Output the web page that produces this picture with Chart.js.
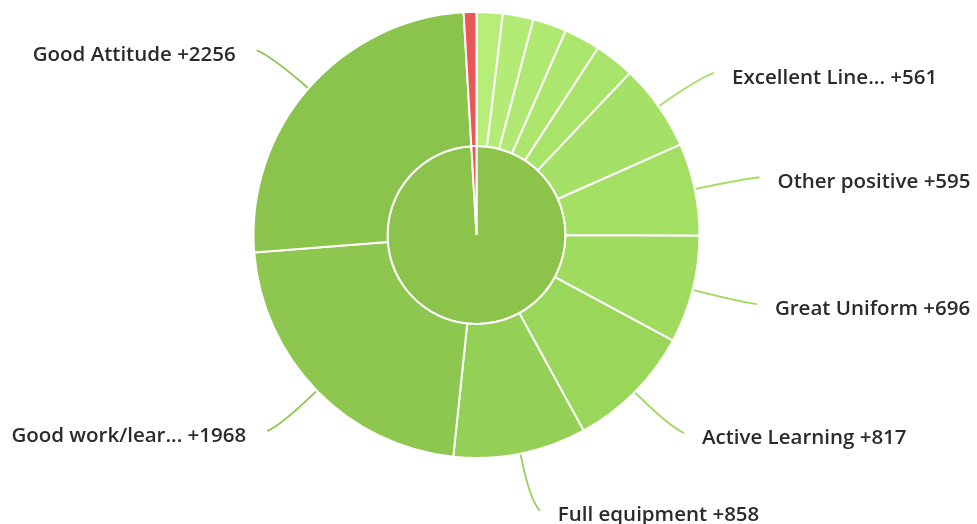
<!DOCTYPE html>
<html>
<head>
<meta charset="utf-8">
<script src="https://cdn.jsdelivr.net/npm/chart.js@4/dist/chart.umd.min.js"></script>
<style>
  html, body { margin: 0; padding: 0; background: #ffffff; }
  #wrap { width: 977px; height: 524px; }
</style>
</head>
<body>
<div id="wrap"><canvas id="Charts_Sunburst_Behaviour"></canvas></div>
<script>
// outer ring, clockwise from 12 o'clock (small unlabelled points first)
var categories = ['', '', '', '', '', 'Excellent Line...', 'Other positive', 'Great Uniform',
  'Active Learning', 'Full equipment', 'Good work/lear...', 'Good Attitude', 'Negative'];
var values = [168, 198, 218, 233, 258, 561, 595, 696, 817, 858, 1968, 2256, 82];
var showLabel = [false, false, false, false, false, true, true, true, true, true, true, true, false];

// inner circle: positive vs negative totals
var innerLabels = ['Positive', 'Negative'];
var innerValues = [values.slice(0, 12).reduce(function (a, b) { return a + b; }, 0), 82];

var outerColors = [
  '#b6ee79', '#b3ec75', '#afe971', '#ace66d', '#a9e46a', '#a6e167', '#a3df63', '#9edb5f',
  '#99d65a', '#94d056', '#8dc750', '#8bc44d', '#ea5558'
];
var innerColors = ['#8bc34b', '#ea5558'];

var ctx = document.getElementById('Charts_Sunburst_Behaviour').getContext('2d');

var connectorLabels = {
  id: 'connectorLabels',
  afterDatasetsDraw: function (chart) {
    var meta = chart.getDatasetMeta(0);
    var c = chart.ctx;
    c.save();
    meta.data.forEach(function (arc, i) {
      if (!showLabel[i]) return;
      var p = arc.getProps(['x', 'y', 'startAngle', 'endAngle', 'outerRadius']);
      var a = (p.startAngle + p.endAngle) / 2;
      var R = p.outerRadius;
      var side = Math.cos(a) >= 0 ? 1 : -1;
      var sx = p.x + (R + 1) * Math.cos(a), sy = p.y + (R + 1) * Math.sin(a);
      var cx = p.x + (R + 48) * Math.cos(a), cy = p.y + (R + 48) * Math.sin(a);
      var ex = p.x + (R + 58) * Math.cos(a) + side * 8, ey = p.y + (R + 58) * Math.sin(a);
      c.beginPath();
      c.moveTo(sx, sy);
      c.quadraticCurveTo(cx, cy, ex, ey);
      c.strokeStyle = outerColors[i];
      c.lineWidth = 1.8;
      c.stroke();

      c.font = '600 20.5px "Open Sans"';
      c.fillStyle = '#2b2b2b';
      c.textBaseline = 'middle';
      c.textAlign = side > 0 ? 'left' : 'right';
      c.fillText(categories[i] + ' +' + values[i], ex + side * (side > 0 ? 18 : 21), ey + 5);
    });
    c.restore();
  }
};

new Chart(ctx, {
  type: 'doughnut',
  data: {
    labels: categories,
    datasets: [{
      data: values,
      backgroundColor: outerColors,
      borderColor: '#ffffff',
      borderWidth: 2,
      weight: 134
    }, {
      labels: innerLabels,
      data: innerValues,
      backgroundColor: innerColors,
      borderColor: '#ffffff',
      borderWidth: 2,
      weight: 89
    }]
  },
  options: {
    responsive: true,
    maintainAspectRatio: false,
    animation: false,
    cutout: 0,
    layout: {
      padding: { top: 11, bottom: 65, left: 0, right: 24 }
    },
    plugins: {
      legend: { display: false },
      tooltip: { enabled: false }
    }
  },
  plugins: [connectorLabels]
});
</script>
</body>
</html>
